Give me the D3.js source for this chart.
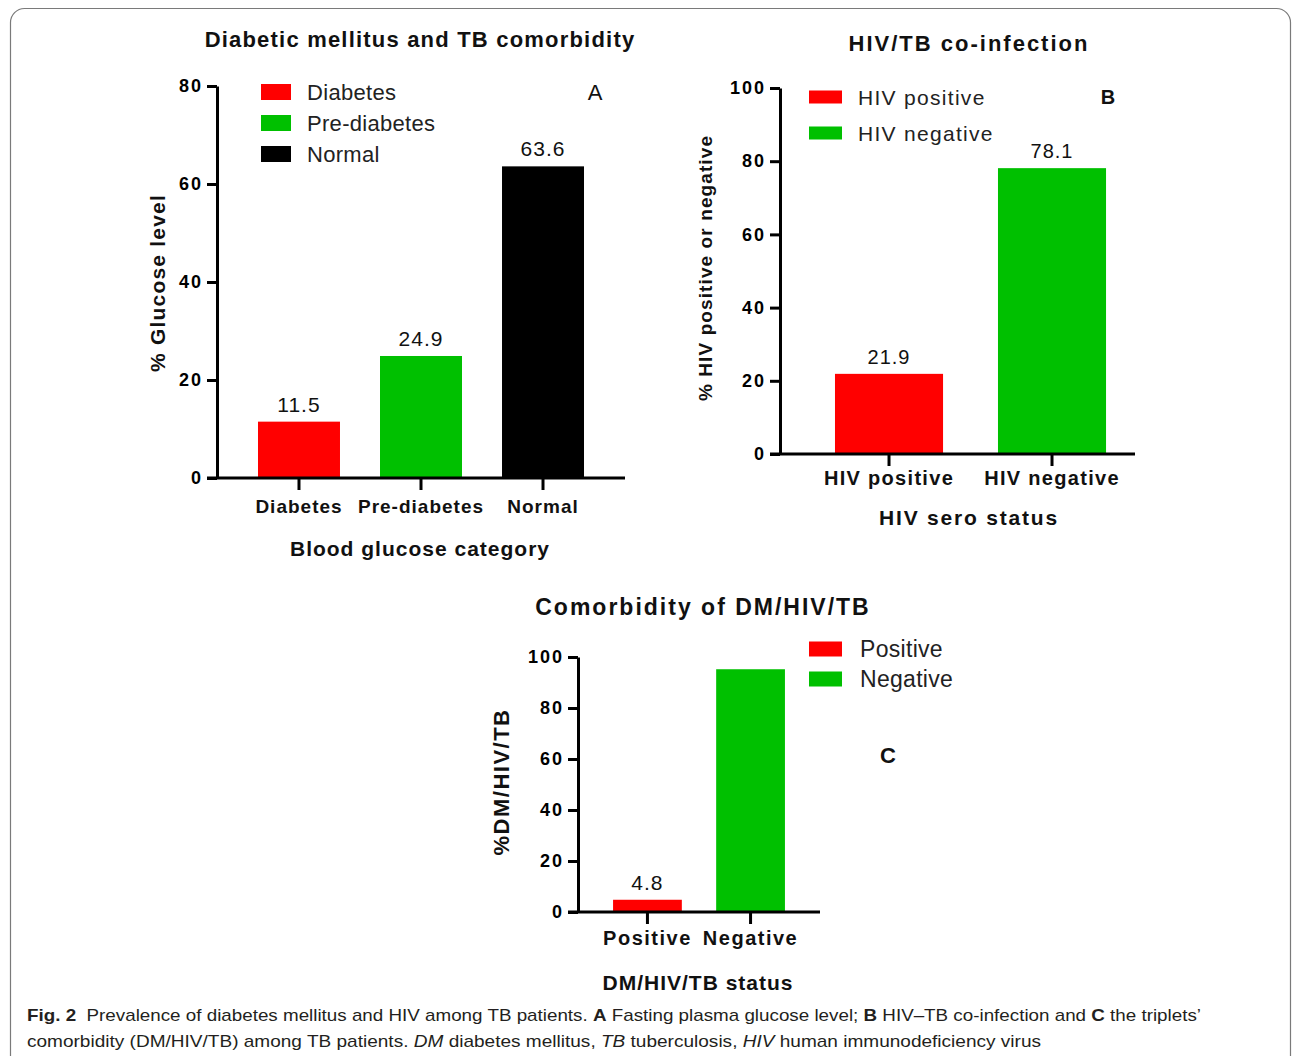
<!DOCTYPE html>
<html><head><meta charset="utf-8">
<script src="https://cdn.jsdelivr.net/npm/d3@7"></script>
<style>
html,body{margin:0;padding:0;background:#fff;}
svg{display:block;}
text{font-family:"Liberation Sans",Arial,sans-serif;}
</style></head>
<body>
<svg id="chart" width="1293" height="1056"></svg>
<script>
// ---------- data ----------
const catsA = ["Diabetes", "Pre-diabetes", "Normal"];
const valsA = [11.5, 24.9, 63.6];
const labelsA = ["11.5", "24.9", "63.6"];
const colorsA = ["#ff0000", "#00c000", "#000000"];
const ticksA = [0, 20, 40, 60, 80];

const catsB = ["HIV positive", "HIV negative"];
const valsB = [21.9, 78.1];
const labelsB = ["21.9", "78.1"];
const colorsB = ["#ff0000", "#00c000"];
const ticksB = [0, 20, 40, 60, 80, 100];

const catsC = ["Positive", "Negative"];
const valsC = [4.8, 95.2];
const labelsC = ["4.8", ""];
const colorsC = ["#ff0000", "#00c000"];
const ticksC = [0, 20, 40, 60, 80, 100];

const svg = d3.select("#chart");

// frame
svg.append("rect").attr("x", 10.5).attr("y", 8.5).attr("width", 1280).attr("height", 1200)
  .attr("rx", 14).attr("fill", "none").attr("stroke", "#7a7a7a").attr("stroke-width", 1.2);

function panel(cfg) {
  const g = svg.append("g");
  const y = d3.scaleLinear().domain([0, cfg.ymax]).range([cfg.y0, cfg.y1]);
  const x = d3.scaleBand().domain(cfg.cats).range([cfg.x0, cfg.x1])
    .paddingInner(cfg.pi).paddingOuter(cfg.po).align(cfg.align);

  // bars
  g.selectAll("rect.bar").data(cfg.cats).join("rect").attr("class", "bar")
    .attr("x", d => x(d)).attr("width", x.bandwidth())
    .attr("y", (d, i) => y(cfg.vals[i])).attr("height", (d, i) => y(0) - y(cfg.vals[i]))
    .attr("fill", (d, i) => cfg.colors[i]);

  // value labels
  g.selectAll("text.val").data(cfg.cats).join("text").attr("class", "val")
    .attr("x", d => x(d) + x.bandwidth() / 2)
    .attr("y", (d, i) => y(cfg.vals[i]) - 10)
    .attr("text-anchor", "middle").attr("font-size", cfg.valSize).attr("letter-spacing", 1)
    .attr("fill", "#111").text((d, i) => cfg.labels[i]);

  // y axis
  const ya = g.append("g").attr("transform", `translate(${cfg.x0},0)`)
    .call(d3.axisLeft(y).tickValues(cfg.ticks).tickSize(10).tickSizeOuter(0).tickPadding(4));
  ya.select(".domain").attr("stroke", "#000").attr("stroke-width", 3);
  ya.selectAll(".tick line").attr("stroke", "#000").attr("stroke-width", 3);
  ya.selectAll(".tick text").attr("font-family", "Liberation Sans, Arial, sans-serif")
    .attr("font-weight", "bold").attr("font-size", 18).attr("letter-spacing", 2).attr("fill", "#000");

  // x axis
  const xa = g.append("g").attr("transform", `translate(0,${cfg.y0})`)
    .call(d3.axisBottom(x).tickSize(12).tickSizeOuter(0).tickPadding(8));
  xa.select(".domain").attr("stroke", "#000").attr("stroke-width", 3)
    .attr("d", `M${cfg.x0 - 10},0H${cfg.xEnd}`);
  xa.selectAll(".tick line").attr("stroke", "#000").attr("stroke-width", 3);
  xa.selectAll(".tick text").attr("font-family", "Liberation Sans, Arial, sans-serif")
    .attr("font-weight", "bold").attr("font-size", cfg.catSize).attr("letter-spacing", cfg.catLS).attr("fill", "#111")
    .attr("dy", null).attr("y", cfg.catDy);

  // titles
  g.append("text").attr("x", cfg.titleX).attr("y", cfg.titleY).attr("text-anchor", "middle")
    .attr("font-weight", "bold").attr("font-size", cfg.titleSize).attr("letter-spacing", cfg.titleLS).attr("fill", "#111").text(cfg.title);
  g.append("text").attr("x", cfg.xTitleX).attr("y", cfg.xTitleY).attr("text-anchor", "middle")
    .attr("font-weight", "bold").attr("font-size", cfg.xTitleSize).attr("letter-spacing", cfg.xTitleLS).attr("fill", "#111").text(cfg.xTitle);
  g.append("text").attr("transform", `translate(${cfg.yTitleX},${cfg.yTitleY}) rotate(-90)`)
    .attr("text-anchor", "middle").attr("font-weight", "bold").attr("font-size", cfg.yTitleSize)
    .attr("letter-spacing", cfg.yTitleLS).attr("fill", "#111").text(cfg.yTitle);

  // legend
  const lg = g.append("g");
  cfg.cats.forEach((c, i) => {
    const ly = cfg.legY + i * cfg.legStep;
    lg.append("rect").attr("x", cfg.legX).attr("y", ly - cfg.swH / 2).attr("width", cfg.swW).attr("height", cfg.swH)
      .attr("fill", cfg.colors[i]);
    lg.append("text").attr("x", cfg.legTX).attr("y", ly).attr("dy", "0.36em")
      .attr("font-size", cfg.legSize).attr("letter-spacing", cfg.legLS).attr("fill", "#222").text(cfg.legLabels[i]);
  });

  // panel letter
  g.append("text").attr("x", cfg.letX).attr("y", cfg.letY).attr("text-anchor", "middle")
    .attr("font-weight", cfg.letWeight).attr("font-size", cfg.letSize).attr("fill", "#111").text(cfg.letter);
}

panel({
  cats: catsA, vals: valsA, labels: labelsA, colors: colorsA, ticks: ticksA, ymax: 80,
  x0: 217, x1: 625, xEnd: 625, y0: 478, y1: 86, pi: 0.328, po: 0.336, align: 0.5,
  valSize: 21, catSize: 19, catLS: 1, catDy: 35,
  title: "Diabetic mellitus and TB comorbidity", titleX: 420, titleY: 47, titleSize: 22, titleLS: 1.2,
  xTitle: "Blood glucose category", xTitleX: 420, xTitleY: 556, xTitleSize: 21, xTitleLS: 1,
  yTitle: "% Glucose level", yTitleX: 165, yTitleY: 283, yTitleSize: 21, yTitleLS: 1.2,
  legLabels: catsA, legX: 261, legY: 92, legStep: 31, swW: 30, swH: 16, legTX: 307, legSize: 22, legLS: 0.3,
  letter: "A", letX: 595, letY: 100, letSize: 22, letWeight: "normal"
});

panel({
  cats: catsB, vals: valsB, labels: labelsB, colors: colorsB, ticks: ticksB, ymax: 100,
  x0: 780, x1: 1135, xEnd: 1135, y0: 454, y1: 88, pi: 0.337, po: 0.2575, align: 0.655,
  valSize: 20, catSize: 20, catLS: 1.3, catDy: 31,
  title: "HIV/TB co-infection", titleX: 969, titleY: 51, titleSize: 22, titleLS: 2,
  xTitle: "HIV sero status", xTitleX: 969, xTitleY: 525, xTitleSize: 21, xTitleLS: 1.8,
  yTitle: "% HIV positive or negative", yTitleX: 712, yTitleY: 268, yTitleSize: 19, yTitleLS: 1.1,
  legLabels: catsB, legX: 809, legY: 97, legStep: 36, swW: 33, swH: 13, legTX: 858, legSize: 21, legLS: 1.3,
  letter: "B", letX: 1108, letY: 104, letSize: 20, letWeight: "bold"
});

panel({
  cats: catsC, vals: valsC, labels: labelsC, colors: colorsC, ticks: ticksC, ymax: 100,
  x0: 578, x1: 820, xEnd: 820, y0: 912, y1: 657, pi: 0.333, po: 0.34, align: 0.5,
  valSize: 21, catSize: 20, catLS: 1.5, catDy: 33,
  title: "Comorbidity of DM/HIV/TB", titleX: 703, titleY: 615, titleSize: 23, titleLS: 2,
  xTitle: "DM/HIV/TB status", xTitleX: 698, xTitleY: 990, xTitleSize: 21, xTitleLS: 1,
  yTitle: "%DM/HIV/TB", yTitleX: 509, yTitleY: 782, yTitleSize: 22, yTitleLS: 1.5,
  legLabels: catsC, legX: 809, legY: 649, legStep: 30, swW: 33, swH: 15, legTX: 860, legSize: 23, legLS: 0.3,
  letter: "C", letX: 888, letY: 763, letSize: 22, letWeight: "bold"
});

// caption
const cap1 = [["Fig. 2", "b"], ["  Prevalence of diabetes mellitus and HIV among TB patients. ", ""], ["A", "b"],
  [" Fasting plasma glucose level; ", ""], ["B", "b"], [" HIV–TB co-infection and ", ""], ["C", "b"], [" the triplets’", ""]];
const cap2 = [["comorbidity (DM/HIV/TB) among TB patients. ", ""], ["DM", "i"], [" diabetes mellitus, ", ""], ["TB", "i"],
  [" tuberculosis, ", ""], ["HIV", "i"], [" human immunodeficiency virus", ""]];
function capLine(parts, yy, len) {
  const t = svg.append("text").attr("x", 27).attr("y", yy).attr("font-size", 17)
    .attr("font-family", "'Liberation Sans Narrow','Open Sans',sans-serif").attr("fill", "#231f20")
    .attr("textLength", len).attr("lengthAdjust", "spacingAndGlyphs").attr("xml:space", "preserve");
  parts.forEach(p => {
    t.append("tspan").attr("font-weight", p[1] === "b" ? "bold" : "normal")
      .attr("font-style", p[1] === "i" ? "italic" : "normal").text(p[0]);
  });
}
capLine(cap1, 1021, 1174);
capLine(cap2, 1047, 1014);
</script>
</body></html>
